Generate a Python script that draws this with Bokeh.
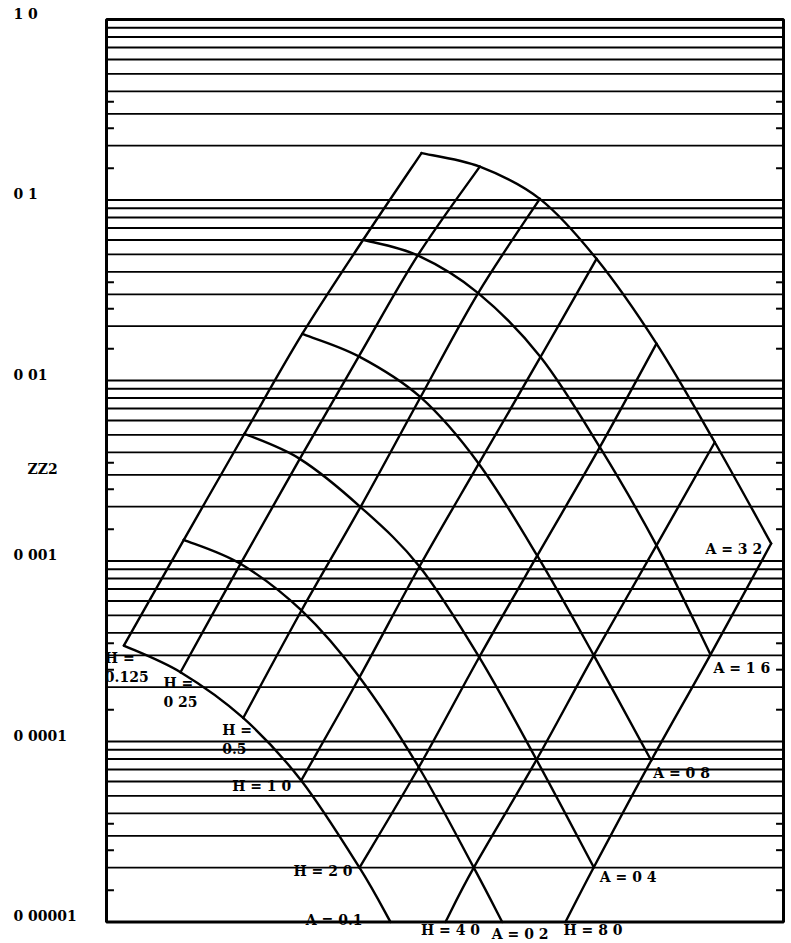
import math
from bokeh.plotting import figure
from bokeh.models import Range1d, ColumnDataSource
from bokeh.embed import file_html
from bokeh.resources import INLINE
from bokeh.core.properties import value

# ---------------------------------------------------------------- y axis (log)
axis_tick_values = [1.0, 0.1, 0.01, 0.003, 0.001, 0.0001, 0.00001]
axis_tick_labels = ["1 0", "0 1", "0 01", "ZZ2", "0 001", "0 0001", "0 00001"]
grid_mantissas = [1, 2, 3, 4, 5, 6, 7, 8, 9]
grid_exponents = [-5, -4, -3, -2, -1]
minor_tick_mantissas = [1.5, 2.5, 3.5]

# ---------------------------------------------------------------- nomogram
H_values = [0.125, 0.25, 0.5, 1.0, 2.0, 4.0, 8.0]
A_values = [0.1, 0.2, 0.4, 0.8, 1.6, 3.2]

# crossing of each H line (rows) with each A curve (columns)
# x: position across the chart, 0 = left edge, 100 = right edge
# y: value on the log axis ; None where the crossing falls below 1e-5
node_x = [
    [2.56, 11.42, 20.38, 28.91, 37.92, 46.53],
    [10.93, 19.79, 28.55, 37.27, 45.98, 55.14],
    [20.19, 28.80, 37.52, 46.38, 54.90, 64.00],
    [28.76, 37.37, 46.23, 54.99, 64.11, 72.38],
    [37.37, 46.13, 55.05, 63.62, 72.87, 81.24],
    [None, 54.25, 63.52, 71.98, 81.24, 89.85],
    [None, None, 71.98, 80.46, 89.22, 98.18],
]
node_y = [
    [3.40e-4, 1.31e-3, 5.07e-3, 1.81e-2, 6.02e-2, 0.182],
    [2.42e-4, 9.65e-4, 3.68e-3, 1.36e-2, 4.93e-2, 0.153],
    [1.35e-4, 5.32e-4, 1.99e-3, 8.08e-3, 3.05e-2, 0.1015],
    [6.08e-5, 2.27e-4, 9.32e-4, 3.46e-3, 1.35e-2, 4.72e-2],
    [2.00e-5, 7.20e-5, 2.93e-4, 1.07e-3, 4.27e-3, 1.60e-2],
    [None, 2.00e-5, 7.92e-5, 3.00e-4, 1.22e-3, 4.55e-3],
    [None, None, 2.01e-5, 7.85e-5, 3.03e-4, 1.25e-3],
]
# where curves run out through the bottom edge (y = 1e-5)
A_exit_x = {0.1: 41.95, 0.2: 58.45}
H_entry_x = {4.0: 50.07, 8.0: 67.80}

A_labels = ["A = 0.1", "A = 0 2", "A = 0 4", "A = 0 8", "A = 1 6", "A = 3 2"]
H_labels = [["H =", "0.125"], ["H =", "0 25"], ["H =", "0.5"], ["H = 1 0"],
            ["H = 2 0"], ["H = 4 0"], ["H = 8 0"]]

# ---------------------------------------------------------------- layout
W, H_PX = 791, 943
FRAME_L, FRAME_R = 106, 783          # px of chart edges
FRAME_T, FRAME_B = 19, 921.5
Y_TOP, Y_BOT = 1.0, 1e-5
PX_PER_UNIT = (FRAME_R - FRAME_L) / 100.0
PX_PER_DECADE = (FRAME_B - FRAME_T) / 5.0

x_lo = -FRAME_L / PX_PER_UNIT
x_hi = (W - FRAME_L) / PX_PER_UNIT
y_hi = 10 ** (FRAME_T / PX_PER_DECADE)
y_lo = 10 ** (-(H_PX - FRAME_T) / PX_PER_DECADE)

p = figure(width=W, height=H_PX, x_range=Range1d(x_lo, x_hi),
           y_range=Range1d(y_lo, y_hi), y_axis_type="log",
           x_axis_location=None, y_axis_location=None,
           output_backend="svg", toolbar_location=None, min_border=0)
p.grid.visible = False
p.outline_line_color = None
p.background_fill_color = "white"
p.border_fill_color = "white"

INK = "#000000"

# horizontal log grid
grid_vals = [m * 10.0 ** e for e in grid_exponents for m in grid_mantissas]
p.segment(x0=[0] * len(grid_vals), x1=[100] * len(grid_vals),
          y0=grid_vals, y1=grid_vals, line_color=INK, line_width=1.9)

# short inward ticks on both edges
tick_vals = [m * 10.0 ** e for e in grid_exponents for m in minor_tick_mantissas]
tl = 1.1
p.segment(x0=[0] * len(tick_vals), x1=[tl] * len(tick_vals),
          y0=tick_vals, y1=tick_vals, line_color=INK, line_width=2.0)
p.segment(x0=[100 - tl] * len(tick_vals), x1=[100] * len(tick_vals),
          y0=tick_vals, y1=tick_vals, line_color=INK, line_width=2.0)

# chart frame
p.quad(left=[0], right=[100], bottom=[Y_BOT], top=[Y_TOP],
       fill_color=None, line_color=INK, line_width=3.0)

# H lines (run up to the right) and A curves (run down to the right)
curves = []
for i, hv in enumerate(H_values):
    pts = []
    if hv in H_entry_x:
        pts.append((H_entry_x[hv], Y_BOT))
    for j in range(len(A_values)):
        if node_x[i][j] is not None:
            pts.append((node_x[i][j], node_y[i][j]))
    curves.append(pts)

for j, av in enumerate(A_values):
    pts = []
    for i in range(len(H_values)):
        if node_x[i][j] is not None:
            pts.append((node_x[i][j], node_y[i][j]))
    if av in A_exit_x:
        pts.append((A_exit_x[av], Y_BOT))
    curves.append(pts)

# each curve is drawn as a smooth run of cubic pieces through its crossings
# (Catmull-Rom handles, worked out in x / log10(y) space)
seg = dict(x0=[], y0=[], x1=[], y1=[], cx0=[], cy0=[], cx1=[], cy1=[])
for pts in curves:
    q = [(x, math.log10(y)) for x, y in pts]
    n = len(q)
    for k in range(n - 1):
        p0 = q[k - 1] if k > 0 else q[k]
        p1, p2 = q[k], q[k + 1]
        p3 = q[k + 2] if k + 2 < n else q[k + 1]
        c1 = (p1[0] + (p2[0] - p0[0]) / 6.0, p1[1] + (p2[1] - p0[1]) / 6.0)
        c2 = (p2[0] - (p3[0] - p1[0]) / 6.0, p2[1] - (p3[1] - p1[1]) / 6.0)
        seg["x0"].append(p1[0]); seg["y0"].append(10 ** p1[1])
        seg["x1"].append(p2[0]); seg["y1"].append(10 ** p2[1])
        seg["cx0"].append(c1[0]); seg["cy0"].append(10 ** c1[1])
        seg["cx1"].append(c2[0]); seg["cy1"].append(10 ** c2[1])

p.bezier(x0="x0", y0="y0", x1="x1", y1="y1", cx0="cx0", cy0="cy0",
         cx1="cx1", cy1="cy1", source=ColumnDataSource(seg),
         line_color=INK, line_width=2.4, line_cap="round")

FONT = value("DejaVu Serif")
FSIZE = "14px"

def put_text(xs, ys, texts, dx, dy, align):
    src = ColumnDataSource(dict(x=xs, y=ys, text=texts, dx=dx, dy=dy))
    p.text(x="x", y="y", text="text", x_offset="dx", y_offset="dy", source=src,
           text_font=FONT, text_font_style="bold", text_font_size=FSIZE,
           text_color=INK, text_align=align, text_baseline="middle")

# axis labels, written left of the frame
lab_x = (13 - FRAME_L) / PX_PER_UNIT
put_text([lab_x] * len(axis_tick_values), axis_tick_values, axis_tick_labels,
         [14 if t == "ZZ2" else 0 for t in axis_tick_labels],
         [-6] * len(axis_tick_values), "left")

# curve labels, placed next to the end of each curve
last = len(H_values) - 1
a_anchor = {
    3.2: (node_x[last][5], node_y[last][5], -9, 5, "right"),
    1.6: (node_x[last][4], node_y[last][4], 3, 13, "left"),
    0.8: (node_x[last][3], node_y[last][3], 2, 13, "left"),
    0.4: (node_x[last][2], node_y[last][2], 6, 10, "left"),
    0.2: (A_exit_x[0.2], Y_BOT, 18, 12, "center"),
    0.1: (A_exit_x[0.1], Y_BOT, -28, -2, "right"),
}
h_anchor = {
    8.0: (H_entry_x[8.0], Y_BOT, -2, 8, "left"),
    4.0: (H_entry_x[4.0], Y_BOT, 5, 8, "center"),
    2.0: (node_x[4][0], node_y[4][0], -7, 3, "right"),
    1.0: (node_x[3][0], node_y[3][0], -10, 5, "right"),
    0.5: (node_x[2][0], node_y[2][0], -21, 12, "left"),
    0.25: (node_x[1][0], node_y[1][0], -17, 11, "left"),
    0.125: (node_x[0][0], node_y[0][0], -19, 12, "left"),
}

groups = {}
for av, txt in zip(A_values, A_labels):
    x, y, dx, dy, al = a_anchor[av]
    groups.setdefault(al, []).append((x, y, txt, dx, dy))
for hv, lines in zip(H_values, H_labels):
    x, y, dx, dy, al = h_anchor[hv]
    for k, txt in enumerate(lines):
        groups.setdefault(al, []).append((x, y, txt, dx, dy + 18.5 * k))

for al, rows in groups.items():
    xs, ys, ts, dxs, dys = zip(*rows)
    put_text(list(xs), list(ys), list(ts), list(dxs), list(dys), al)

open("out.html", "w").write(file_html(p, INLINE))
